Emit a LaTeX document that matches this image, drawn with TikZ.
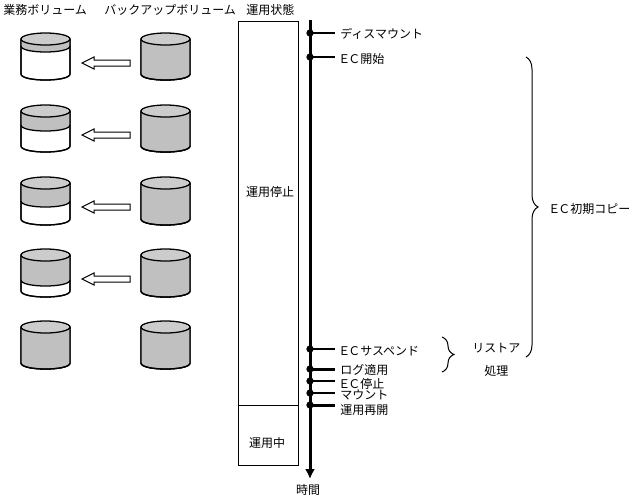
\documentclass[tikz,border=0pt]{standalone}
\usepackage{fontspec}
\setmainfont{Noto Sans CJK JP}
\usetikzlibrary{arrows.meta,decorations.pathreplacing}

\tikzset{
  txt/.style={inner xsep=0pt,inner ysep=0pt,text height=8.75pt,text depth=0.25pt,font=\fontsize{9}{9}\selectfont},
  lbl/.style={txt,anchor=west},
  vol/.style={draw=black,line width=0.95pt},
  tick/.style={line width=1.5pt,shorten >=3.75pt},
  tickb/.style={line width=2.25pt,shorten >=3.75pt},
  dot/.style={circle,fill=black,inner sep=0pt,minimum size=5.5pt},
  bracer/.style={line width=0.75pt,decorate,decoration={brace}}
}
\definecolor{volgray}{HTML}{C0C0C0}
\definecolor{topgray}{HTML}{CCCCCC}

% the two wide letters, set closer than the font does
\newcommand{\ecmark}{\hspace{-1.5pt}Ｅ\hspace{-1.5pt}Ｃ}

% one volume: #1 left x, #2 top y, #3 bottom y, #4 y where the gray part ends
\newcommand{\volume}[4]{
  \path[vol,fill=white] (#1,#2+6) -- (#1,#3-6) .. controls (#1,#3+2) and (#1+49,#3+2) .. (#1+49,#3-6) -- (#1+49,#2+6) -- cycle;
  \path[fill=volgray] (#1,#2+6) -- (#1,#4-6) .. controls (#1,#4+2) and (#1+49,#4+2) .. (#1+49,#4-6) -- (#1+49,#2+6) -- cycle;
  \draw[vol] (#1,#2+6) -- (#1,#3-6) .. controls (#1,#3+2) and (#1+49,#3+2) .. (#1+49,#3-6) -- (#1+49,#2+6);
  \draw[vol] (#1,#4-6) .. controls (#1,#4+2) and (#1+49,#4+2) .. (#1+49,#4-6);
  \draw[vol,fill=topgray] (#1+24.5,#2+6) ellipse (24.5 and 6);
}

\begin{document}
\begin{tikzpicture}[x=0.75pt,y=-0.75pt]
\useasboundingbox (0,0) rectangle (640,501);
%----------headings----------------------------
\node[lbl] (headMain) at (3,9) {業務ボリューム};
\node[lbl] (headBack) at (104,9) {バックアップボリューム};
\node[lbl] (headState) at (246,9) {運用状態};
%----------volumes-----------------------------
\foreach \ytop/\ybot/\ygray in {33/80/52,105/152/131,177/225/207,249/297/286,321/369/369}{
  \volume{21}{\ytop}{\ybot}{\ygray}
  \volume{141}{\ytop}{\ybot}{\ybot}
}
%----------copy arrows-------------------------
\foreach \y in {63,135,207,279}{
  \draw[line width=0.75pt,fill=white] (82,\y) -- (94,\y-6) -- (94,\y-3) -- (130,\y-3) -- (130,\y+3) -- (94,\y+3) -- (94,\y+6) -- cycle;
}
%----------state box---------------------------
\draw[line width=0.75pt] (238,21) rectangle (298,465);
\draw[line width=0.75pt] (238,405) -- (298,405);
\node[txt] (stateStop) at (270,191) {運用停止};
\node[txt] (stateRun) at (267,442) {運用中};
%----------time axis---------------------------
\coordinate (axisTop) at (310,20);
\coordinate (axisEnd) at (310,479);
\node[txt] (axisLabel) at (308,489) {時間};
\draw[line width=2.25pt,-{Latex[length=7.5pt,width=7.5pt]}] (axisTop) -- (axisEnd);
%----------events------------------------------
\foreach \name/\y/\ytxt/\style/\txt in {
  umount/33/33/tick/ディスマウント,
  ecstart/57/58/tick/\ecmark 開始,
  suspend/349/350/tick/\ecmark サスペンド,
  logapply/369/369/tickb/ログ適用,
  ecstop/381/383/tick/\ecmark 停止,
  mount/393/394/tick/マウント,
  resume/405/409/tickb/運用再開}{
  \node[dot] (\name) at (310,\y) {};
  \node[lbl] (\name Lbl) at (340,\ytxt) {\txt};
  \draw[\style] (\name.center) -- (\name.center -| \name Lbl.west);
}
%----------braces------------------------------
\coordinate (bigTop) at (526,57);
\coordinate (bigEnd) at (526,357);
\draw[bracer,decoration={amplitude=9pt}] (bigTop) -- (bigEnd);
\node[lbl] (bigLbl) at (550,208) {\ecmark 初期コピー};
\coordinate (smallTop) at (442,337);
\coordinate (smallEnd) at (442,372);
\draw[bracer,decoration={amplitude=9pt}] (smallTop) -- (smallEnd);
\node[lbl] (restoreLbl) at (472,347) {リストア};
\node[lbl] (procLbl) at (484,370) {処理};
\end{tikzpicture}
\end{document}
